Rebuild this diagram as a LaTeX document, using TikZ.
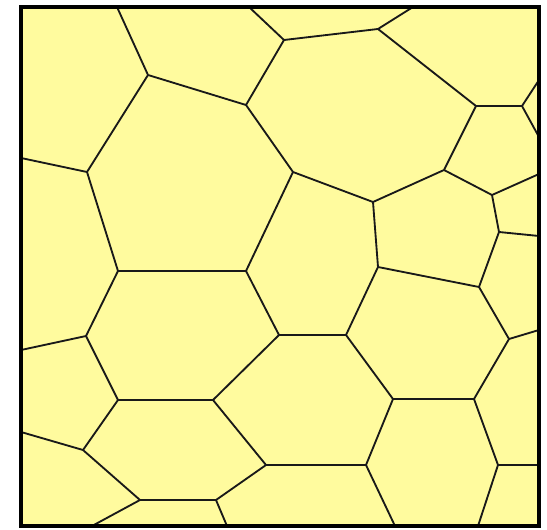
\documentclass[tikz,border=0pt]{standalone}
\usepackage{tikz}
\definecolor{cellfill}{RGB}{255,251,158}
\tikzset{
  wall/.style={line width=1.05pt, black!90, line join=round},
  frame/.style={line width=2.3pt, black}
}
\begin{document}
\begin{tikzpicture}[x=0.02cm, y=-0.02cm]
    \useasboundingbox (0,0) rectangle (547,530);

    % Background of the cells
    \fill[cellfill] (21,7) rectangle (539,526);

    % Points on the frame
    \coordinate (t1) at (117,7);   \coordinate (t2) at (249,7);   \coordinate (t3) at (413,7);
    \coordinate (l1) at (21,158);  \coordinate (l2) at (21,350);  \coordinate (l3) at (21,432);
    \coordinate (r1) at (539,80);  \coordinate (r2) at (539,137); \coordinate (r3) at (539,174);
    \coordinate (r4) at (539,236); \coordinate (r5) at (539,330); \coordinate (r6) at (539,465);
    \coordinate (b1) at (92,526);  \coordinate (b2) at (227,526); \coordinate (b3) at (395,526);
    \coordinate (b4) at (478,526);

    % Inner vertices
    \coordinate (vB) at (148,75);   \coordinate (vC) at (246,105);  \coordinate (vD) at (284,40);
    \coordinate (vE) at (293,172);  \coordinate (vF) at (87,172);   \coordinate (vG) at (118,271);
    \coordinate (vH) at (246,271);  \coordinate (vI) at (378,29);   \coordinate (vJ) at (476,106);
    \coordinate (vK) at (522,106);  \coordinate (vL) at (444,170);  \coordinate (vM) at (373,202);
    \coordinate (vN) at (492,195);  \coordinate (vO) at (499,232);  \coordinate (vP) at (378,267);
    \coordinate (vQ) at (479,287);  \coordinate (vR) at (509,339);  \coordinate (vS) at (474,399);
    \coordinate (vT) at (393,399);  \coordinate (vU) at (346,335);  \coordinate (vV) at (279,335);
    \coordinate (vW) at (366,465);  \coordinate (vX) at (498,465);  \coordinate (vY) at (86,336);
    \coordinate (vZ) at (118,400);  \coordinate (vAA) at (213,400); \coordinate (vBB) at (83,450);
    \coordinate (vCC) at (140,500); \coordinate (vDD) at (216,500); \coordinate (vEE) at (266,465);

    % Upper cells
    \draw[wall] (t1) -- (vB) -- (vC) -- (vD) -- (t2);
    \draw[wall] (vD) -- (vI) -- (t3);
    \draw[wall] (vI) -- (vJ) -- (vK) -- (r1);
    \draw[wall] (vK) -- (r2);
    \draw[wall] (vJ) -- (vL) -- (vM) -- (vE) -- (vC);
    \draw[wall] (vL) -- (vN) -- (r3);
    \draw[wall] (vN) -- (vO) -- (r4);
    \draw[wall] (vB) -- (vF) -- (l1);
    \draw[wall] (vF) -- (vG) -- (vH) -- (vE);

    % Middle cells
    \draw[wall] (vO) -- (vQ) -- (vR) -- (r5);
    \draw[wall] (vM) -- (vP) -- (vQ);
    \draw[wall] (vR) -- (vS) -- (vT) -- (vU) -- (vP);
    \draw[wall] (vU) -- (vV) -- (vH);
    \draw[wall] (vG) -- (vY) -- (l2);
    \draw[wall] (vY) -- (vZ) -- (vAA) -- (vV);

    % Lower cells
    \draw[wall] (vT) -- (vW) -- (b3);
    \draw[wall] (vS) -- (vX) -- (r6);
    \draw[wall] (vX) -- (b4);
    \draw[wall] (vZ) -- (vBB) -- (l3);
    \draw[wall] (vBB) -- (vCC) -- (vDD) -- (vEE) -- (vW);
    \draw[wall] (vCC) -- (b1);
    \draw[wall] (vDD) -- (b2);
    \draw[wall] (vAA) -- (vEE);

    % Frame
    \draw[frame] (21,7) rectangle (539,526);
\end{tikzpicture}
\end{document}
